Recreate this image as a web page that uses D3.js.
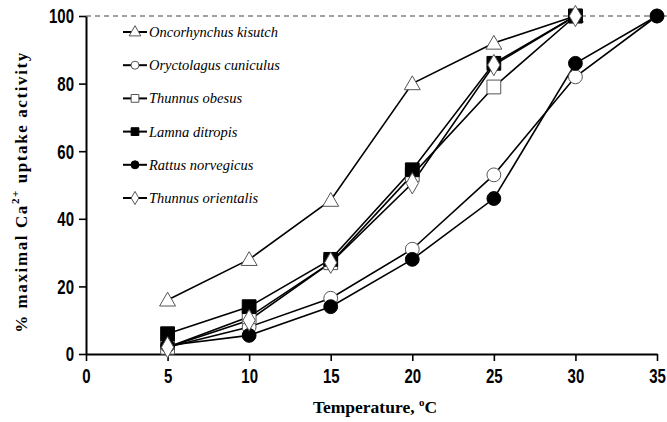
<!DOCTYPE html>
<html>
<head>
<meta charset="utf-8">
<script src="https://cdn.jsdelivr.net/npm/d3@7"></script>
<style>
  body { margin: 0; background: #fff; }
</style>
</head>
<body>
<div id="chart"></div>
<script>
// Data
const temps = [5, 10, 15, 20, 25, 30, 35];
const speciesNames = [
    "Oncorhynchus kisutch",
    "Oryctolagus cuniculus",
    "Thunnus obesus",
    "Lamna ditropis",
    "Rattus norvegicus",
    "Thunnus orientalis"
];
const oncorhynchus = [16, 28, 45.5, 80, 92, 100, null];
const oryctolagus = [2, 8, 16.5, 31, 53, 82, 100];
const thunnusObesus = [2, 11, 27, 53, 79, 100, null];
const lamna = [6, 14, 28, 54.5, 86, 100, null];
const rattus = [2.5, 5.5, 14, 28, 46, 86, 100];
const thunnusOrientalis = [2, 10, 27, 50.5, 85.5, 100, null];
const xTicks = [0, 5, 10, 15, 20, 25, 30, 35];
const yTicks = [0, 20, 40, 60, 80, 100];

const series = [
    { name: speciesNames[0], values: oncorhynchus, shape: "triangle", fill: "#fff" },
    { name: speciesNames[1], values: oryctolagus, shape: "circle", fill: "#fff" },
    { name: speciesNames[2], values: thunnusObesus, shape: "square", fill: "#fff" },
    { name: speciesNames[3], values: lamna, shape: "square", fill: "#000" },
    { name: speciesNames[4], values: rattus, shape: "circle", fill: "#000" },
    { name: speciesNames[5], values: thunnusOrientalis, shape: "diamond", fill: "#fff" }
];

const width = 667, height = 422;
const margin = { top: 16, right: 10, bottom: 68, left: 86 };
const serif = "'Liberation Serif', 'Times New Roman', serif";
const sans = "'Liberation Sans', Arial, sans-serif";

const svg = d3.select("#chart").append("svg")
    .attr("width", width)
    .attr("height", height);

const x = d3.scaleLinear().domain([0, 35]).range([margin.left, 657]);
const y = d3.scaleLinear().domain([0, 100]).range([354, margin.top]);

// symbol generators
const symbolPath = (shape, big) => {
    if (shape === "triangle") return d3.symbol(d3.symbolTriangle, big ? 110 : 60)();
    if (shape === "circle") return d3.symbol(d3.symbolCircle, big ? 150 : 50)();
    if (shape === "square") return d3.symbol(d3.symbolSquare, big ? 190 : 60)();
    return d3.symbol(d3.symbolDiamond, big ? 130 : 50)();
};

// dashed line at 100
svg.append("line")
    .attr("x1", x(0)).attr("x2", width)
    .attr("y1", y(100)).attr("y2", y(100))
    .attr("stroke", "#444")
    .attr("stroke-width", 1.2)
    .attr("stroke-dasharray", "5,4");

// axes
const xAxis = svg.append("g")
    .attr("transform", `translate(0,${y(0)})`)
    .call(d3.axisBottom(x).tickValues(xTicks).tickSize(7).tickSizeOuter(0));
const yAxis = svg.append("g")
    .attr("transform", `translate(${x(0)},0)`)
    .call(d3.axisLeft(y).tickValues(yTicks).tickSize(7).tickSizeOuter(0));

[xAxis, yAxis].forEach(a => {
    a.select(".domain").attr("stroke", "#000").attr("stroke-width", 2);
    a.selectAll(".tick line").attr("stroke", "#000").attr("stroke-width", 1.6);
    a.selectAll("text")
        .attr("font-family", sans)
        .attr("font-weight", "bold")
        .attr("font-size", 20)
        .attr("fill", "#000");
});
// narrow digits like the original
xAxis.selectAll("text").attr("dy", "0.95em").attr("transform", "scale(0.75,1)");
yAxis.selectAll("text").attr("x", -16).attr("dy", "0.34em").attr("transform", "scale(0.75,1)");

// lines and markers
const line = d3.line()
    .defined(d => d.v !== null)
    .x(d => x(d.t))
    .y(d => y(d.v));

series.forEach(s => {
    const pts = temps.map((t, i) => ({ t, v: s.values[i] })).filter(d => d.v !== null);
    svg.append("path")
        .datum(pts)
        .attr("fill", "none")
        .attr("stroke", "#000")
        .attr("stroke-width", 1.6)
        .attr("d", line);
});

series.forEach(s => {
    const pts = temps.map((t, i) => ({ t, v: s.values[i] })).filter(d => d.v !== null);
    svg.append("g")
        .selectAll("path")
        .data(pts)
        .join("path")
        .attr("transform", d => `translate(${x(d.t)},${y(d.v) + (s.shape === "triangle" ? 1.5 : 0)})`)
        .attr("d", symbolPath(s.shape, true))
        .attr("fill", s.fill)
        .attr("stroke", s.fill === "#000" ? "#000" : "#555")
        .attr("stroke-width", 1);
});

// legend
const legend = svg.append("g");

series.forEach((s, i) => {
    const ly = 32 + i * 33.2;
    const g = legend.append("g").attr("transform", `translate(123,${ly})`);
    g.append("line")
        .attr("x1", 0).attr("x2", 24)
        .attr("y1", 0).attr("y2", 0)
        .attr("stroke", "#000").attr("stroke-width", 2);
    g.append("path")
        .attr("transform", `translate(12,${s.shape === "triangle" ? 0.5 : 0})`)
        .attr("d", symbolPath(s.shape, false))
        .attr("fill", s.fill)
        .attr("stroke", s.fill === "#000" ? "#000" : "#555")
        .attr("stroke-width", 1);
    g.append("text")
        .attr("x", 26)
        .attr("y", 5)
        .attr("font-family", serif)
        .attr("font-style", "italic")
        .attr("font-size", 14.5)
        .attr("fill", "#000")
        .text(s.name);
});

// axis titles
svg.append("text")
    .attr("x", 375)
    .attr("y", 413)
    .attr("text-anchor", "middle")
    .attr("font-family", serif)
    .attr("font-weight", "bold")
    .attr("font-size", 17.5)
    .call(t => t.append("tspan").text("Temperature, "))
    .call(t => t.append("tspan").attr("font-size", 11).attr("dy", -7).text("o"))
    .call(t => t.append("tspan").attr("dy", 7).text("C"));

svg.append("text")
    .attr("transform", "translate(27,192) rotate(-90)")
    .attr("text-anchor", "middle")
    .attr("font-family", serif)
    .attr("font-weight", "bold")
    .attr("font-size", 17)
    .attr("letter-spacing", 1.6)
    .call(t => t.append("tspan").text("% maximal Ca"))
    .call(t => t.append("tspan").attr("font-size", 11).attr("dy", -8).text("2+"))
    .call(t => t.append("tspan").attr("dy", 8).text(" uptake activity"));
</script>
</body>
</html>
